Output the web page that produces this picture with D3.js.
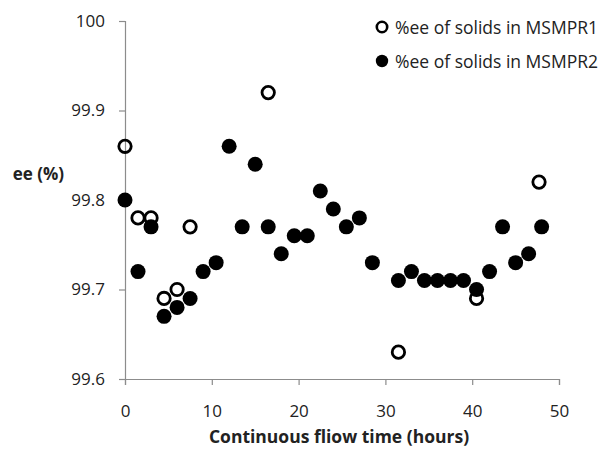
<!DOCTYPE html>
<html><head><meta charset="utf-8">
<script src="https://cdn.jsdelivr.net/npm/d3@7"></script>
<style>body{margin:0;background:#fff}svg{display:block}text{font-family:"Open Sans",sans-serif;fill:#222}</style>
</head><body>
<svg id="c" width="605" height="455"></svg>
<script>
const r1X = [0, 1.5, 3, 4.5, 6, 7.5, 16.5, 31.5, 40.5, 47.7];
const r1Y = [99.86, 99.78, 99.78, 99.69, 99.70, 99.77, 99.92, 99.63, 99.69, 99.82];
const r2X = [0, 1.5, 3, 4.5, 6, 7.5, 9, 10.5, 12, 13.5, 15, 16.5, 18, 19.5, 21, 22.5, 24, 25.5, 27, 28.5, 31.5, 33, 34.5, 36, 37.5, 39, 40.5, 42, 43.5, 45, 46.5, 48];
const r2Y = [99.80, 99.72, 99.77, 99.67, 99.68, 99.69, 99.72, 99.73, 99.86, 99.77, 99.84, 99.77, 99.74, 99.76, 99.76, 99.81, 99.79, 99.77, 99.78, 99.73, 99.71, 99.72, 99.71, 99.71, 99.71, 99.71, 99.70, 99.72, 99.77, 99.73, 99.74, 99.77];
const xTicks = [0, 10, 20, 30, 40, 50];
const yTicks = [99.6, 99.7, 99.8, 99.9, 100];
const seriesNames = ["%ee of solids in MSMPR1", "%ee of solids in MSMPR2"];

const svg = d3.select("#c");
const x = d3.scaleLinear().domain([0, 50]).range([125, 559]);
const y = d3.scaleLinear().domain([99.6, 100]).range([379, 21]);
const axisCol = "#8c8c8c";

const xa = svg.append("g").attr("transform", "translate(0,379)")
  .call(d3.axisBottom(x).tickValues(xTicks).tickSize(6).tickPadding(20).tickFormat(d3.format("d")));
const ya = svg.append("g").attr("transform", "translate(125,0)")
  .call(d3.axisLeft(y).tickValues(yTicks).tickSize(6).tickPadding(14).tickFormat(d => d === 100 ? "100" : d3.format(".1f")(d)));
[xa, ya].forEach(a => {
  a.select(".domain").attr("stroke", axisCol).attr("stroke-width", 1.2);
  a.selectAll(".tick line").attr("stroke", axisCol).attr("stroke-width", 1.2);
  a.selectAll(".tick text").style("font-size", "17px").attr("fill", "#333");
});

svg.append("text").attr("x", 339).attr("y", 443).attr("text-anchor", "middle")
  .style("font-size", "17.5px").style("font-weight", "bold").text("Continuous fliow time (hours)");
svg.append("text").attr("x", 64).attr("y", 180).attr("text-anchor", "end")
  .style("font-size", "17px").style("font-weight", "bold").text("ee (%)");

svg.append("g").selectAll("circle").data(r2X).join("circle")
  .attr("cx", (d, i) => x(d)).attr("cy", (d, i) => y(r2Y[i])).attr("r", 7.5).attr("fill", "#000");
svg.append("g").selectAll("circle").data(r1X).join("circle")
  .attr("cx", (d, i) => x(d)).attr("cy", (d, i) => y(r1Y[i])).attr("r", 6.2)
  .attr("fill", "#fff").attr("fill-opacity", 0).attr("stroke", "#000").attr("stroke-width", 2.8);

const lg = svg.append("g");
seriesNames.forEach((n, i) => {
  const yy = 27 + i * 34;
  const c = lg.append("circle").attr("cx", 382).attr("cy", yy);
  if (i === 0) c.attr("r", 5.2).attr("fill", "none").attr("stroke", "#000").attr("stroke-width", 2.6);
  else c.attr("r", 6.2).attr("fill", "#000");
  lg.append("text").attr("x", 395).attr("y", yy + 6.5).style("font-size", "17.5px").attr("fill", "#333").text(n);
});
</script>
</body></html>
